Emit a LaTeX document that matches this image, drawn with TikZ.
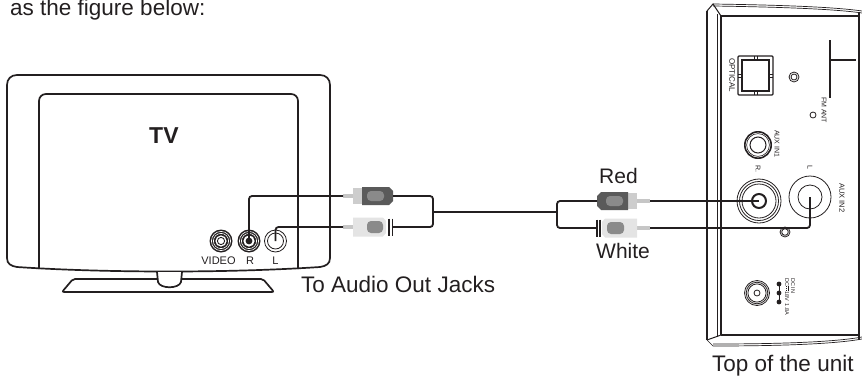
\documentclass[tikz,border=0pt]{standalone}
\usepackage{fontspec}
\setmainfont{Liberation Sans}
\usepackage{xcolor}
\definecolor{ink}{HTML}{231F20}
\definecolor{plugdark}{HTML}{5A5A5A}
\definecolor{pluglight}{HTML}{E4E4E4}
\definecolor{plugtip}{HTML}{C6C6C6}
\definecolor{groove}{HTML}{8A8A8A}

\tikzset{
  frame/.style={line width=1.7pt, draw=ink},
  cable/.style={line width=1.8pt, draw=ink, rounded corners=3pt},
  big/.style={font=\fontsize{22.5}{27}\selectfont, text=ink, inner sep=0pt},
  mid/.style={font=\fontsize{21}{25}\selectfont, text=ink, inner sep=0pt},
  small/.style={font=\fontsize{11}{13}\selectfont, text=ink, inner sep=0pt},
  tiny/.style={font=\fontsize{7.5}{9}\selectfont, text=ink, inner sep=0pt, rotate=-90, anchor=west},
}
\newcommand{\dcsign}{\tikz[baseline=0pt]{\draw[ink, line width=0.5pt] (0pt,3pt) -- (4.5pt,3pt);
  \draw[ink, line width=0.5pt, dash pattern=on 1pt off 0.7pt] (0pt,1.6pt) -- (4.5pt,1.6pt);}}

\begin{document}
\begin{tikzpicture}[x=1pt,y=-1pt]
\useasboundingbox (0,0) rectangle (862,378);

\node[big, anchor=base west] (intro) at (10,15) {as the figure below:};

% TV
\draw[frame] (7,85) .. controls (7,79) and (11,75) .. (17,75) -- (320,75)
  .. controls (326,75) and (330,79) .. (330,85) -- (330,258)
  .. controls (330,264) and (326,266) .. (320,267)
  .. controls (230,273) and (107,273) .. (17,267)
  .. controls (11,266) and (7,264) .. (7,258) -- cycle;
\draw[frame] (39,269) -- (39,101) .. controls (39,97) and (42,94) .. (46,94) -- (291,94)
  .. controls (295,94) and (298,97) .. (298,101) -- (298,269);
\draw[frame, rounded corners=2pt] (73,279) -- (263,279) -- (274,292) -- (62,292) -- cycle;
\draw[frame, fill=white] (157,272) -- (158,282) .. controls (160,289) and (179,289) .. (181,282) -- (182,272);
\node[big, font=\fontsize{23}{27}\selectfont\bfseries, anchor=base west] (tv) at (149,143) {TV};

\fill[ink] (221,241) circle (11.5) (249,241) circle (11.5);
\draw[white, line width=0.6pt] (221,241) circle (9.6) circle (7.6) (249,241) circle (9.6) circle (7.6);
\fill[white] (221,241) circle (5.6) (249,241) circle (5.6);
\draw[ink, line width=0.9pt] (221,241) circle (3.6);
\fill[ink] (249,241) circle (3.4);
\draw[ink, line width=0.8pt] (275.5,241) circle (11) circle (8);
\coordinate (tvR) at (249,241);
\coordinate (tvL) at (275.5,241);
\node[small, anchor=base] (video) at (218.5,264) {VIDEO};
\node[small, anchor=base] (labR) at (250,264) {R};
\node[small, anchor=base] (labL) at (275.5,264) {L};

% plugs
\begin{scope}[shift={(343,196)}]
\fill[plugtip] (0,-2) rectangle (10,2);
\fill[pluglight!90!black] (10,-8) rectangle (19,8);
\fill[plugdark] (19,-9) -- (46,-9) -- (50,-5) -- (50,5) -- (46,9) -- (19,9) -- cycle;
\fill[groove, rounded corners=4pt] (24,-5) rectangle (41,5);
\coordinate (redAtip) at (0,0);
\coordinate (redA) at (50,0);
\end{scope}
\begin{scope}[shift={(343,227)}]
\fill[plugtip] (0,-2) rectangle (10,2);
\fill[pluglight] (10,-9.5) -- (40,-9.5) -- (43,-6) -- (43,6) -- (40,9.5) -- (10,9.5) -- cycle;
\fill[groove, rounded corners=4pt] (24,-6) rectangle (40,6);
\draw[ink, line width=1.1pt] (46,-8.5) -- (46,8.5) (49.5,-8.5) -- (49.5,8.5);
\coordinate (whiteAtip) at (0,0);
\coordinate (whiteA) at (50,0);
\end{scope}
\begin{scope}[shift={(650,201)}, xscale=-1]
\fill[plugtip] (0,-2) rectangle (13,2);
\fill[pluglight!90!black] (13,-8) rectangle (22,8);
\fill[plugdark] (22,-9) -- (49,-9) -- (53,-5) -- (53,5) -- (49,9) -- (22,9) -- cycle;
\fill[groove, rounded corners=4pt] (27,-5) rectangle (44,5);
\coordinate (redBtip) at (0,0);
\coordinate (redB) at (53,0);
\end{scope}
\begin{scope}[shift={(650,228)}, xscale=-1]
\fill[plugtip] (0,-2) rectangle (13,2);
\fill[pluglight] (13,-9.5) -- (45,-9.5) -- (48,-6) -- (48,6) -- (45,9.5) -- (13,9.5) -- cycle;
\fill[groove, rounded corners=4pt] (26,-6) rectangle (43,6);
\draw[ink, line width=1.1pt] (50,-8.5) -- (50,8.5) (53,-8.5) -- (53,8.5);
\coordinate (whiteBtip) at (0,0);
\coordinate (whiteB) at (53,0);
\end{scope}

\coordinate (forkA) at (433,212);
\coordinate (forkB) at (557,212);
\coordinate (unitR) at (759,201);
\coordinate (unitL) at (810,197);

% unit
\draw[line width=2.4pt, ink] (707,11) -- (707,340);
\draw[line width=2.4pt, ink] (859,12) -- (859,340);
\draw[ink, line width=0.7pt] (713,4) .. controls (780,5) and (835,7) .. (862,11);
\draw[ink, line width=0.7pt] (713,6) .. controls (780,7) and (835,9) .. (862,13);
\draw[ink, line width=1pt] (707,11) -- (713,4) -- (721,16);
\draw[ink, line width=2pt] (721,16) -- (859,16);
\draw[ink, line width=2pt] (721,335) -- (859,335);
\draw[ink, line width=0.7pt] (717,14) -- (717,337);
\draw[ink, line width=1.3pt] (721,16) -- (721,335);
\draw[ink, line width=0.7pt] (707,340) -- (713,346) .. controls (780,346) and (835,344) .. (862,339);
\draw[ink, line width=0.7pt] (713,344) .. controls (780,344) and (835,342) .. (862,337);
\draw[ink, line width=1pt] (707,340) -- (721,335);

\draw[ink, line width=1.2pt, rounded corners=1pt] (738,56) rectangle (773,95);
\draw[ink, line width=1.2pt] (742,60) rectangle (769,91);
\draw[ink, line width=0.6pt] (754,56) -- (754,60) (757,56) -- (757,60) (754,91) -- (754,95) (757,91) -- (757,95)
  (738,74) -- (742,74) (738,77) -- (742,77) (769,74) -- (773,74) (769,77) -- (773,77);
\node[tiny, font=\fontsize{8}{9}\selectfont] (optical) at (732,58) {OPTICAL};
\draw[ink, line width=0.8pt] (794,77) circle (5) circle (3);
\draw[ink, line width=1.2pt] (830,40) -- (830,98) (830,60) -- (856,60);
\node[tiny, font=\fontsize{7}{8}\selectfont] (fmant) at (824,97) {FM ANT};
\draw[ink, line width=0.8pt] (813,115) circle (3);

\draw[ink, line width=1.6pt] (758,145) circle (13.2);
\draw[ink, line width=0.6pt] (758,145) circle (11.4);
\draw[ink, line width=1pt] (758,145) circle (8);
\node[tiny, font=\fontsize{7}{8}\selectfont] (auxa) at (777,130) {AUX IN1};

\draw[ink, line width=0.8pt] (unitR) circle (22) circle (19.5) circle (17);
\draw[ink, line width=2pt] (unitR) circle (7);
\node[tiny, font=\fontsize{7}{8}\selectfont] (unitlabR) at (758,165) {R.};
\draw[ink, line width=0.8pt] (unitL) circle (21) circle (12);
\node[tiny, font=\fontsize{7}{8}\selectfont] (unitlabL) at (810,165) {L};
\node[tiny, font=\fontsize{7.5}{8}\selectfont] (auxb) at (842,183) {AUX IN2};
\draw[ink, line width=0.8pt] (785,232) circle (5) circle (3.3);

\draw[ink, line width=0.8pt] (757,293) circle (12.5) circle (10.8) circle (9.1);
\draw[ink, line width=0.8pt] (757,293) circle (3);
\draw[ink, line width=1pt] (779,284) -- (779,302);
\fill[ink] (779,284) circle (2.4) (779,293) circle (2.4) (779,302) circle (2.4);
\node[tiny, font=\fontsize{5.5}{6}\selectfont] (dcin) at (793,278) {DC IN};
\node[tiny, font=\fontsize{5.5}{6}\selectfont] (dcrate) at (787,278) {DC\dcsign18V\ \ 1.8A};

% cables
\draw[cable] (tvR) |- (redAtip);
\draw[cable] (tvL) |- (whiteAtip);
\draw[cable] (redA) -| (forkA) |- (whiteA);
\draw[cable] (forkA) -- (forkB);
\draw[cable] (redB) -| (forkB) |- (whiteB);
\draw[cable] (redBtip) -- (unitR);
\draw[cable] (whiteBtip) -| (unitL);

\node[mid, anchor=base west] (red) at (599,183) {Red};
\node[mid, anchor=base west] (white) at (596,258) {White};
\node[big, anchor=base west] (jacks) at (301,292) {To Audio Out Jacks};
\node[big, anchor=base west] (top) at (712,371) {Top of the unit};
\end{tikzpicture}
\end{document}
